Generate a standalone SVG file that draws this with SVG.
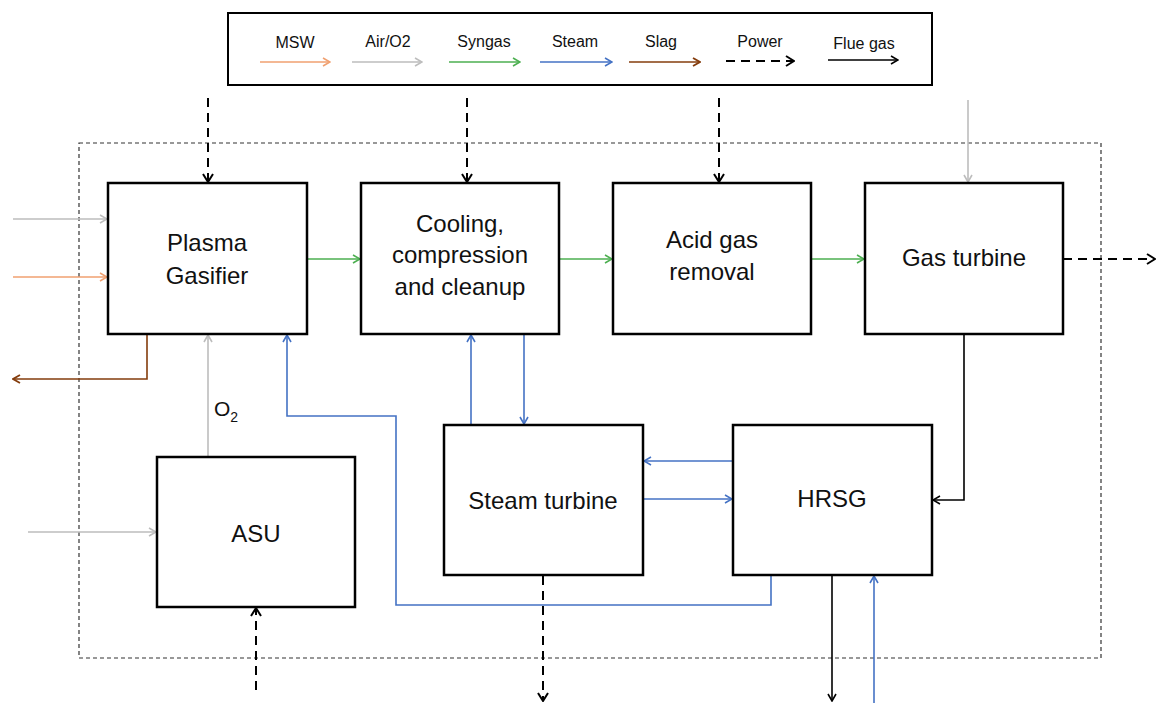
<svg xmlns="http://www.w3.org/2000/svg" width="1157" height="703" viewBox="0 0 1157 703">
<style>
.box{fill:#fff;stroke:#000;stroke-width:2.5}
.lbl{font-family:"Liberation Sans",Arial,sans-serif;font-size:24px;fill:#111;text-anchor:middle}
.leg{font-family:"Liberation Sans",Arial,sans-serif;font-size:16px;fill:#111;text-anchor:middle}
.c{fill:none;stroke-width:1.6}
.msw{stroke:#F0A070}
.air{stroke:#BDBDBD}
.syn{stroke:#4CAF50}
.stm{stroke:#4472C4}
.slg{stroke:#843C0C}
.pwr{stroke:#000;stroke-width:2;stroke-dasharray:9,6}
.flue{stroke:#000}
</style>
<defs>
<marker id="aMsw" viewBox="0 0 10 10" refX="9" refY="5" markerWidth="10" markerHeight="10" markerUnits="userSpaceOnUse" orient="auto-start-reverse"><path d="M2,1 L9,5 L2,9" fill="none" stroke="#F0A070" stroke-width="1.6"/></marker>
<marker id="aAir" viewBox="0 0 10 10" refX="9" refY="5" markerWidth="10" markerHeight="10" markerUnits="userSpaceOnUse" orient="auto-start-reverse"><path d="M2,1 L9,5 L2,9" fill="none" stroke="#BDBDBD" stroke-width="1.6"/></marker>
<marker id="aSyn" viewBox="0 0 10 10" refX="9" refY="5" markerWidth="10" markerHeight="10" markerUnits="userSpaceOnUse" orient="auto-start-reverse"><path d="M2,1 L9,5 L2,9" fill="none" stroke="#4CAF50" stroke-width="1.6"/></marker>
<marker id="aStm" viewBox="0 0 10 10" refX="9" refY="5" markerWidth="10" markerHeight="10" markerUnits="userSpaceOnUse" orient="auto-start-reverse"><path d="M2,1 L9,5 L2,9" fill="none" stroke="#4472C4" stroke-width="1.6"/></marker>
<marker id="aSlg" viewBox="0 0 10 10" refX="9" refY="5" markerWidth="10" markerHeight="10" markerUnits="userSpaceOnUse" orient="auto-start-reverse"><path d="M2,1 L9,5 L2,9" fill="none" stroke="#843C0C" stroke-width="1.8"/></marker>
<marker id="aBlk" viewBox="0 0 10 10" refX="9" refY="5" markerWidth="10" markerHeight="10" markerUnits="userSpaceOnUse" orient="auto-start-reverse"><path d="M2,1 L9,5 L2,9" fill="none" stroke="#000" stroke-width="1.6"/></marker>
<marker id="aPwr" viewBox="0 0 12 12" refX="11" refY="6" markerWidth="12" markerHeight="12" markerUnits="userSpaceOnUse" orient="auto-start-reverse"><path d="M3,1 L11,6 L3,11" fill="none" stroke="#000" stroke-width="2"/></marker>
</defs>
<rect width="1157" height="703" fill="#fff"/>

<g id="legend">
<rect x="228" y="13" width="704" height="72" fill="#fff" stroke="#000" stroke-width="2"/>
<text class="leg" x="295" y="48">MSW</text>
<line class="c msw" x1="260" y1="62" x2="330" y2="62" marker-end="url(#aMsw)"/>
<text class="leg" x="388" y="47">Air/O2</text>
<line class="c air" x1="352" y1="62" x2="422" y2="62" marker-end="url(#aAir)"/>
<text class="leg" x="484" y="47">Syngas</text>
<line class="c syn" x1="449" y1="62" x2="520" y2="62" marker-end="url(#aSyn)"/>
<text class="leg" x="575" y="47">Steam</text>
<line class="c stm" x1="540" y1="62" x2="612" y2="62" marker-end="url(#aStm)"/>
<text class="leg" x="661" y="47">Slag</text>
<line class="c slg" x1="629" y1="62" x2="700" y2="62" stroke-width="2" marker-end="url(#aSlg)"/>
<text class="leg" x="760" y="47">Power</text>
<line class="c pwr" x1="726" y1="61" x2="794" y2="61" marker-end="url(#aPwr)"/>
<text class="leg" x="864" y="49">Flue gas</text>
<line class="c flue" x1="828" y1="60" x2="898" y2="60" marker-end="url(#aBlk)"/>
</g>

<g id="boundary">
<rect x="79" y="143" width="1022" height="515" fill="none" stroke="#333" stroke-width="1.2" stroke-dasharray="4,3"/>
</g>

<g id="connectors">
<line class="c pwr" x1="208" y1="98" x2="208" y2="182" marker-end="url(#aPwr)"/>
<line class="c pwr" x1="467" y1="98" x2="467" y2="182" marker-end="url(#aPwr)"/>
<line class="c pwr" x1="719" y1="98" x2="719" y2="182" marker-end="url(#aPwr)"/>
<line class="c air" x1="968" y1="100" x2="968" y2="182" marker-end="url(#aAir)"/>
<line class="c air" x1="13" y1="219" x2="107" y2="219" marker-end="url(#aAir)"/>
<line class="c msw" x1="13" y1="277" x2="107" y2="277" marker-end="url(#aMsw)"/>
<polyline class="c slg" stroke-width="2" points="147,334 147,379 13,379" marker-end="url(#aSlg)"/>
<line class="c air" x1="208" y1="457" x2="208" y2="335" marker-end="url(#aAir)"/>
<polyline class="c stm" points="771,575 771,605 396,605 396,416 287,416 287,335" marker-end="url(#aStm)"/>
<line class="c syn" x1="307" y1="259" x2="360" y2="259" marker-end="url(#aSyn)"/>
<line class="c syn" x1="559" y1="259" x2="612" y2="259" marker-end="url(#aSyn)"/>
<line class="c syn" x1="811" y1="259" x2="864" y2="259" marker-end="url(#aSyn)"/>
<line class="c stm" x1="471" y1="425" x2="471" y2="335" marker-end="url(#aStm)"/>
<line class="c stm" x1="524" y1="334" x2="524" y2="424" marker-end="url(#aStm)"/>
<line class="c stm" x1="733" y1="461" x2="644" y2="461" marker-end="url(#aStm)"/>
<line class="c stm" x1="643" y1="499" x2="732" y2="499" marker-end="url(#aStm)"/>
<polyline class="c flue" points="964,334 964,500 933,500" marker-end="url(#aBlk)"/>
<line class="c pwr" x1="1063" y1="259" x2="1155" y2="259" marker-end="url(#aPwr)"/>
<line class="c pwr" x1="543" y1="576" x2="543" y2="701" marker-end="url(#aPwr)"/>
<line class="c flue" x1="832" y1="575" x2="832" y2="701" marker-end="url(#aBlk)"/>
<line class="c stm" x1="874" y1="703" x2="874" y2="576" marker-end="url(#aStm)"/>
<line class="c air" x1="28" y1="532" x2="156" y2="532" marker-end="url(#aAir)"/>
<line class="c pwr" x1="256" y1="690" x2="256" y2="608" marker-end="url(#aPwr)"/>
<text font-family="'Liberation Sans',Arial,sans-serif" font-size="21" fill="#111" x="214" y="416">O<tspan font-size="14" dy="6">2</tspan></text>
</g>

<g id="gasifier">
<rect class="box" x="108" y="183" width="199" height="151"/>
<text class="lbl" x="207" y="251">Plasma</text>
<text class="lbl" x="207" y="284">Gasifier</text>
</g>
<g id="cooling">
<rect class="box" x="361" y="183" width="198" height="151"/>
<text class="lbl" x="460" y="232">Cooling,</text>
<text class="lbl" x="460" y="263">compression</text>
<text class="lbl" x="460" y="295">and cleanup</text>
</g>
<g id="acidgas">
<rect class="box" x="613" y="183" width="198" height="151"/>
<text class="lbl" x="712" y="248">Acid gas</text>
<text class="lbl" x="712" y="280">removal</text>
</g>
<g id="gasturbine">
<rect class="box" x="865" y="183" width="198" height="151"/>
<text class="lbl" x="964" y="266">Gas turbine</text>
</g>
<g id="asu">
<rect class="box" x="157" y="457" width="198" height="150"/>
<text class="lbl" x="256" y="542">ASU</text>
</g>
<g id="steamturbine">
<rect class="box" x="444" y="425" width="199" height="150"/>
<text class="lbl" x="543" y="509">Steam turbine</text>
</g>
<g id="hrsg">
<rect class="box" x="733" y="425" width="199" height="150"/>
<text class="lbl" x="832" y="507">HRSG</text>
</g>
</svg>
